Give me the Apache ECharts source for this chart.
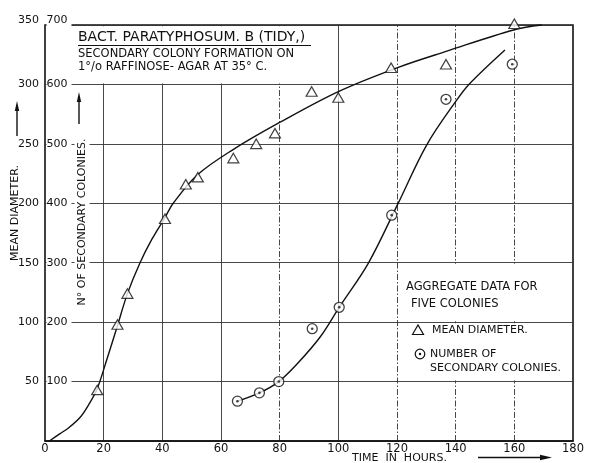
<!DOCTYPE html>
<html><head><meta charset="utf-8">
<script src="https://cdn.jsdelivr.net/npm/echarts@6/dist/echarts.min.js"></script>
<style>html,body{margin:0;padding:0;background:#fff}#c{width:592px;height:463px}</style>
</head><body><div id="c"></div>
<script>
// ---- data ----
const hourTicks = [0,20,40,60,80,100,120,140,160,180];
const diameterTicks = [0,50,100,150,200,250,300,350];
const colonyTicks = [0,100,200,300,400,500,600,700];

const diameterHours  = [17.8,24.7,28.1,40.9,48,52.1,64.2,72,78.4,90.9,100,118,136.7,160];
const diameterValues = [43,98,124,187,216,222,238,250,259,294,289,314,317,351];
const colonyHours  = [65.6,73.1,79.7,91.1,100.3,118.2,136.7,159.3];
const colonyValues = [67,81,100,189,225,380,575,634];

const diameterCurveHours  = [1.5,5,8,12,15,17.8,21,24.7,28.1,32.4,36.5,40.9,43.7,52,64,80,100,120,137,160,169.3];
const diameterCurveValues = [0,6,11,20,31,44,68,97,124,150,170,188,200,224,245,268,294,314,328,346,350];
const colonyCurveHours  = [65.6,73.1,79.7,86,93.8,100.3,110.2,120.3,130.1,140.4,144.9,156.8];
const colonyCurveValues = [67,81,100,130,175,225,299,399,498,574,602,658];

const titleText = 'BACT. PARATYPHOSUM. B (TIDY,)';
const subText = 'SECONDARY COLONY FORMATION ON\n1°/o RAFFINOSE- AGAR AT 35° C.';

// grid lines drawn dash-dot in the original
const dashedGridHours = [80,120,140,160];

// ---- layout ----
const GL = 45, GT = 25, GW = 528, GH = 416;
const FONT = 'DejaVu Sans';
const INK = '#111';
const GRIDC = '#333';
const px = h => GL + (h - hourTicks[0]) / (hourTicks[hourTicks.length-1] - hourTicks[0]) * GW;
const pyC = c => GT + GH - c / colonyTicks[colonyTicks.length-1] * GH;

const zip = (a, b) => a.map((v, i) => [v, b[i]]);

const chart = echarts.init(document.getElementById('c'), null, {renderer: 'canvas'});

const maskStyle = {fill: '#fff'};
const option = {
  animation: false,
  backgroundColor: '#fff',
  textStyle: {fontFamily: FONT, color: INK},
  title: {
    text: titleText,
    subtext: subText,
    left: 78, top: 30, itemGap: 2, padding: 0,
    textStyle: {fontFamily: FONT, fontSize: 14, fontWeight: 'normal', color: INK, lineHeight: 15},
    subtextStyle: {fontFamily: FONT, fontSize: 11.5, color: INK, lineHeight: 13.5}
  },
  grid: {left: GL, top: GT, width: GW, height: GH, show: true, borderColor: INK, borderWidth: 1.6, containLabel: false},
  xAxis: {
    type: 'value', min: hourTicks[0], max: hourTicks[hourTicks.length-1], interval: hourTicks[1]-hourTicks[0],
    axisLine: {show: true, lineStyle: {color: INK, width: 1.6}},
    axisTick: {show: false},
    axisLabel: {fontFamily: FONT, fontSize: 11.5, color: INK, margin: 2},
    splitLine: {show: false}
  },
  yAxis: [
    {
      type: 'value', position: 'left', min: diameterTicks[0], max: diameterTicks[diameterTicks.length-1],
      interval: diameterTicks[1]-diameterTicks[0],
      axisLine: {show: false}, axisTick: {show: false}, splitLine: {show: false},
      axisLabel: {
        fontFamily: FONT, fontSize: 11, color: INK, margin: 6,
        formatter: v => v === 0 ? '' : (v === diameterTicks[diameterTicks.length-1] ? '{top|' + v + '}' : String(v)),
        rich: {top: {fontFamily: FONT, fontSize: 11, color: INK, padding: [0,0,10,0]}}
      }
    },
    {
      type: 'value', position: 'left', min: colonyTicks[0], max: colonyTicks[colonyTicks.length-1],
      interval: colonyTicks[1]-colonyTicks[0],
      axisLine: {show: false}, axisTick: {show: false},
      splitLine: {show: true, lineStyle: {color: GRIDC, width: 0.9}},
      axisLabel: {
        inside: true, fontFamily: FONT, fontSize: 11, color: INK, margin: 1.5,
        backgroundColor: '#fff', padding: [1,4,1,0],
        formatter: v => v === 0 ? '' : (v === colonyTicks[colonyTicks.length-1] ? '{top|' + v + '}' : String(v)),
        rich: {top: {fontFamily: FONT, fontSize: 11, color: INK, padding: [0,0,10,0]}}
      }
    }
  ],
  graphic: [
    // title box mask
    {type: 'rect', z: 1, silent: true, shape: {x: GL + 27, y: GT + 1.2, width: px(100) - 2 - (GL + 27), height: pyC(600) - 1 - (GT + 1.2)}, style: maskStyle},
    // legend box masks (200 line stays visible)
    {type: 'rect', z: 1, silent: true, shape: {x: px(120) + 1, y: pyC(300) + 1, width: GL + GW - 1.5 - (px(120) + 1), height: pyC(200) - 1 - (pyC(300) + 1)}, style: maskStyle},
    {type: 'rect', z: 1, silent: true, shape: {x: px(120) + 1, y: pyC(200) + 1, width: GL + GW - 1.5 - (px(120) + 1), height: pyC(100) - 1 - (pyC(200) + 1)}, style: maskStyle},
    // title underline
    {type: 'line', z: 3, silent: true, shape: {x1: 78, y1: 45.5, x2: 311, y2: 45.5}, style: {stroke: INK, lineWidth: 1.2}},
    // axis names
    {type: 'text', z: 3, silent: true, x: 15, y: 213, rotation: Math.PI/2,
      style: {text: 'MEAN DIAMETER.', x: 0, y: 0, align: 'center', verticalAlign: 'middle', font: '11px "DejaVu Sans"', fill: INK}},
    {type: 'polyline', z: 3, silent: true, shape: {points: [[17,136],[17,108]]}, style: {stroke: INK, lineWidth: 1.4}},
    {type: 'polygon', z: 3, silent: true, shape: {points: [[14.8,111],[17,101],[19.2,111]]}, style: {fill: INK}},
    {type: 'text', z: 3, silent: true, x: 82, y: 222, rotation: Math.PI/2,
      style: {text: 'N° OF SECONDARY COLONIES.', x: 0, y: 0, align: 'center', verticalAlign: 'middle', font: '11px "DejaVu Sans"', fill: INK, backgroundColor: '#fff', padding: [2,4]}},
    {type: 'polyline', z: 3, silent: true, shape: {points: [[79,124],[79,100]]}, style: {stroke: INK, lineWidth: 1.4}},
    {type: 'polygon', z: 3, silent: true, shape: {points: [[76.8,102],[79,92],[81.2,102]]}, style: {fill: INK}},
    {type: 'text', z: 3, silent: true, x: 352, y: 458.5,
      style: {text: 'TIME  IN  HOURS.', x: 0, y: 0, align: 'left', verticalAlign: 'middle', font: '11px "DejaVu Sans"', fill: INK}},
    {type: 'polyline', z: 3, silent: true, shape: {points: [[478,457.5],[542,457.5]]}, style: {stroke: INK, lineWidth: 1.4}},
    {type: 'polygon', z: 3, silent: true, shape: {points: [[540,454.7],[552,457.5],[540,460.3]]}, style: {fill: INK}},
    // legend texts
    {type: 'text', z: 3, silent: true, x: 406, y: 287, style: {text: 'AGGREGATE DATA FOR', x: 0, y: 0, verticalAlign: 'middle', font: '11.5px "DejaVu Sans"', fill: INK}},
    {type: 'text', z: 3, silent: true, x: 411, y: 304, style: {text: 'FIVE COLONIES', x: 0, y: 0, verticalAlign: 'middle', font: '11.5px "DejaVu Sans"', fill: INK}},
    {type: 'polygon', z: 3, silent: true, shape: {points: [[412.5,334.5],[418,325],[423.5,334.5]]}, style: {fill: '#fff', stroke: INK, lineWidth: 1.2}},
    {type: 'text', z: 3, silent: true, x: 432, y: 330, style: {text: 'MEAN DIAMETER.', x: 0, y: 0, verticalAlign: 'middle', font: '11px "DejaVu Sans"', fill: INK}},
    {type: 'circle', z: 3, silent: true, shape: {cx: 420, cy: 354, r: 4.8}, style: {fill: '#fff', stroke: INK, lineWidth: 1.2}},
    {type: 'circle', z: 3, silent: true, shape: {cx: 420, cy: 354, r: 1.2}, style: {fill: INK}},
    {type: 'text', z: 3, silent: true, x: 430, y: 354, style: {text: 'NUMBER OF', x: 0, y: 0, verticalAlign: 'middle', font: '11px "DejaVu Sans"', fill: INK}},
    {type: 'text', z: 3, silent: true, x: 430, y: 368, style: {text: 'SECONDARY COLONIES.', x: 0, y: 0, verticalAlign: 'middle', font: '11px "DejaVu Sans"', fill: INK}}
  ],
  series: [
    {name: 'vertical grid', type: 'line', yAxisIndex: 0, z: 0, data: [], silent: true,
      markLine: {silent: true, z: 0, zlevel: 0, symbol: 'none', label: {show: false}, animation: false,
        data: hourTicks.slice(1, -1).map(h => ({xAxis: h,
          lineStyle: {color: GRIDC, width: 0.9, type: dashedGridHours.includes(h) ? [6, 2, 1.5, 2] : 'solid'}}))}},
    {name: 'Mean diameter curve', type: 'line', yAxisIndex: 0, z: 4, showSymbol: false, smooth: 0.35,
      data: zip(diameterCurveHours, diameterCurveValues), lineStyle: {color: INK, width: 1.4}, clip: false},
    {name: 'Secondary colonies curve', type: 'line', yAxisIndex: 1, z: 4, showSymbol: false, smooth: 0.35,
      data: zip(colonyCurveHours, colonyCurveValues), lineStyle: {color: INK, width: 1.4}, clip: false},
    {name: 'MEAN DIAMETER.', type: 'scatter', yAxisIndex: 0, z: 5, symbol: 'triangle', symbolSize: [11, 9.5], clip: false,
      data: zip(diameterHours, diameterValues), itemStyle: {color: '#fff', borderColor: INK, borderWidth: 1.2}},
    {name: 'NUMBER OF SECONDARY COLONIES.', type: 'scatter', yAxisIndex: 1, z: 5, symbol: 'circle', symbolSize: 10, clip: false,
      data: zip(colonyHours, colonyValues), itemStyle: {color: '#fff', borderColor: INK, borderWidth: 1.3}},
    {name: 'colony centre dots', type: 'scatter', yAxisIndex: 1, z: 6, symbol: 'circle', symbolSize: 2.6, clip: false,
      data: zip(colonyHours, colonyValues), itemStyle: {color: INK}}
  ]
};
chart.setOption(option);
</script>
</body></html>
